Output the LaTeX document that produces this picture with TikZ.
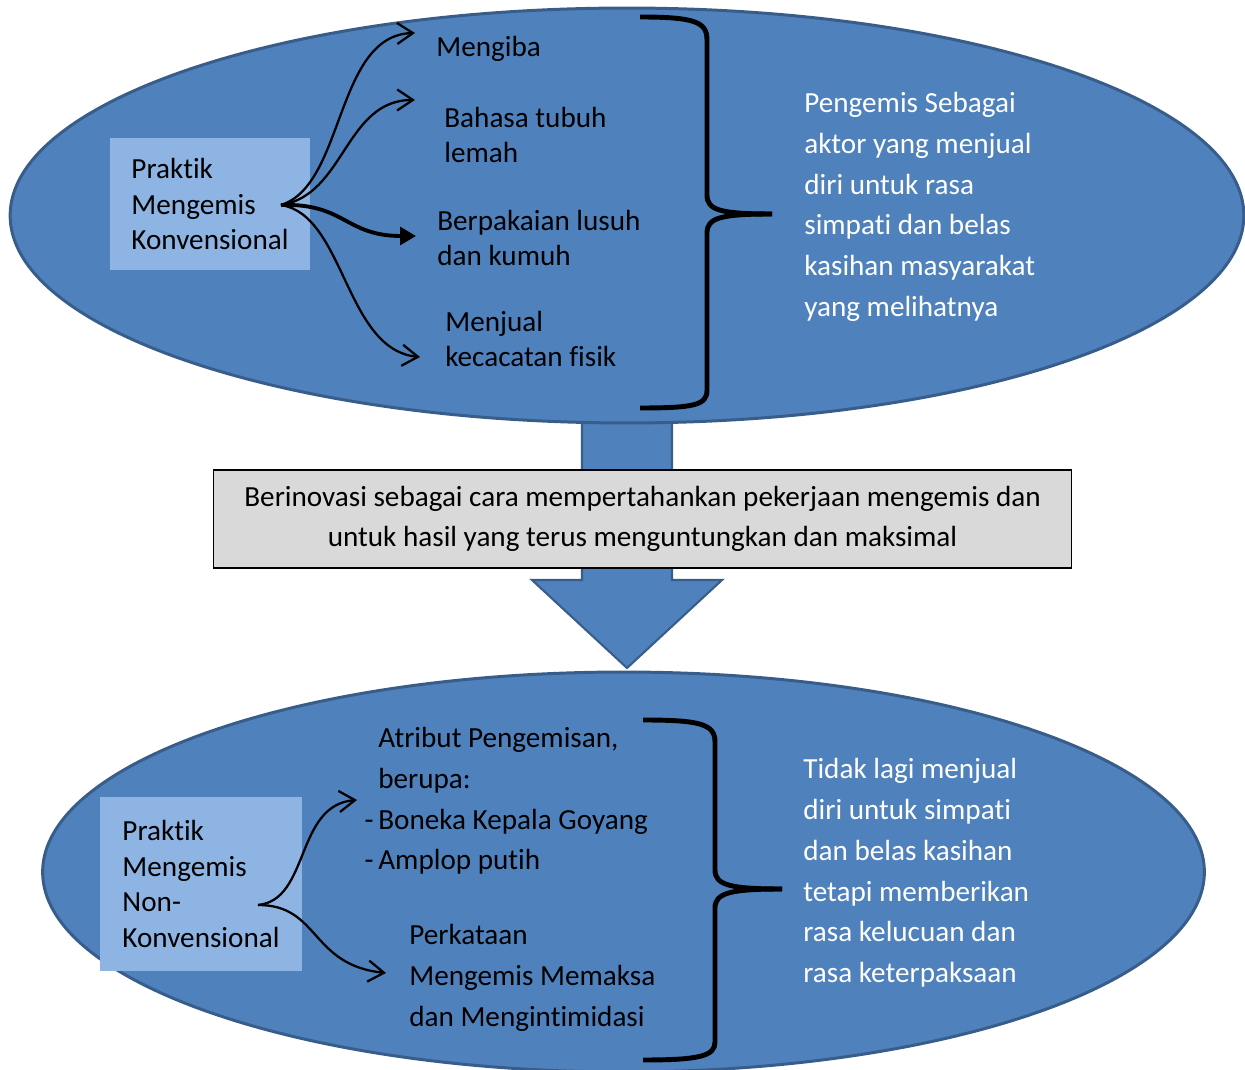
\documentclass[tikz,border=0pt]{standalone}
\usepackage{fontspec}
\setmainfont{Carlito}[Ligatures=NoCommon]
\usetikzlibrary{arrows.meta}

\definecolor{ovalblue}{HTML}{4F81BD}
\definecolor{ovalline}{HTML}{385D8A}
\definecolor{boxblue}{HTML}{8EB4E3}
\definecolor{boxgray}{HTML}{D9D9D9}

\begin{document}
\begin{tikzpicture}[x=0.02cm, y=-0.02cm,
    oval/.style={fill=ovalblue, draw=ovalline, line width=1.7pt},
    lightbox/.style={fill=boxblue, inner sep=0pt, align=left, font=\fontsize{16.6}{20.4}\selectfont},
    item/.style={anchor=west, inner sep=0pt, align=left, font=\fontsize{16.6}{20.4}\selectfont},
    itemwide/.style={item, font=\fontsize{16.6}{23.2}\selectfont},
    note/.style={itemwide, text=white},
    link/.style={line width=1.3pt, -{Straight Barb[length=9pt, width=12pt]}},
    boldlink/.style={line width=2.2pt, -{Triangle[length=9pt, width=10pt]}},
    bracket/.style={line width=2.8pt}]

    \useasboundingbox (0,0) rectangle (1245,1070);
    \clip (0,0) rectangle (1245,1070);

    % big arrow between the two ovals
    \draw[fill=ovalblue, draw=ovalline, line width=1.2pt] (582,405) -- (672,405) -- (672,580) -- (722,580)
        -- (627,668) -- (532,580) -- (582,580) -- cycle;

    \draw[oval] (627,215.5) ellipse [x radius=12.34cm, y radius=4.15cm];
    \draw[oval] (623.5,872) ellipse [x radius=11.62cm, y radius=4.0cm];

    \node[draw=black, line width=0.6pt, fill=boxgray, minimum width=17.18cm, minimum height=1.96cm,
        align=center, font=\fontsize{16.6}{23.2}\selectfont] (inovasi) at (642.5,519)
        {Berinovasi sebagai cara mempertahankan pekerjaan mengemis dan\\untuk hasil yang terus menguntungkan dan maksimal};

    % top oval
    \node[lightbox, minimum width=4cm, minimum height=2.64cm] (konv) at (210,204) {Praktik\\Mengemis\\Konvensional};

    \node[item] (mengiba) at (436,49) {Mengiba};
    \node[item] (bahasa) at (444,135) {Bahasa tubuh\\lemah};
    \node[item] (pakaian) at (437,238) {Berpakaian lusuh\\dan kumuh};
    \node[item] (cacat) at (445,339) {Menjual\\kecacatan fisik};
    \node[note] (aktor) at (804,207) {Pengemis Sebagai\\aktor yang menjual\\diri untuk rasa\\simpati dan belas\\kasihan masyarakat\\yang melihatnya};

    \coordinate (src1) at (281,205);
    \coordinate (tip1) at (415,33);
    \coordinate (tip2) at (415,100);
    \coordinate (tip3) at (416,236);
    \coordinate (tip4) at (420,357);

    \draw[link] (src1) .. controls (345,185) and (335,35) .. (tip1);
    \draw[link] (src1) .. controls (345,195) and (345,100) .. (tip2);
    \draw[boldlink] (src1) .. controls (345,203) and (345,236) .. (tip3);
    \draw[link] (src1) .. controls (345,215) and (345,350) .. (tip4);

    \draw[bracket] (640,17) .. controls (695,17) and (707,22) .. (707,40) -- (707,195)
        .. controls (707,210) and (720,214) .. (772,214);
    \draw[bracket] (772,214) .. controls (720,214) and (707,218) .. (707,233) -- (707,390)
        .. controls (707,405) and (695,408) .. (640,408);

    % bottom oval
    \node[lightbox, minimum width=4.04cm, minimum height=3.48cm] (nonkonv) at (201,884) {Praktik\\Mengemis\\Non-\\Konvensional};

    \node[itemwide] (atribut) at (378,801) {Atribut Pengemisan,\\berupa:\\\llap{-\,}Boneka Kepala Goyang\\\llap{-\,}Amplop putih};
    \node[itemwide] (perkataan) at (409,978) {Perkataan\\Mengemis Memaksa\\dan Mengintimidasi};
    \node[note] (lucu) at (803,873) {Tidak lagi menjual\\diri untuk simpati\\dan belas kasihan\\tetapi memberikan\\rasa kelucuan dan\\rasa keterpaksaan};

    \coordinate (src2) at (258,905);
    \coordinate (tip5) at (357,800);
    \coordinate (tip6) at (386,973);

    \draw[link] (src2) .. controls (310,900) and (295,805) .. (tip5);
    \draw[link] (src2) .. controls (320,905) and (310,965) .. (tip6);

    \draw[bracket] (643,720) .. controls (700,720) and (715,724) .. (715,742) -- (715,870)
        .. controls (715,885) and (730,889) .. (782,889);
    \draw[bracket] (782,889) .. controls (730,889) and (715,893) .. (715,908) -- (715,1042)
        .. controls (715,1056) and (700,1060) .. (643,1060);

\end{tikzpicture}
\end{document}
